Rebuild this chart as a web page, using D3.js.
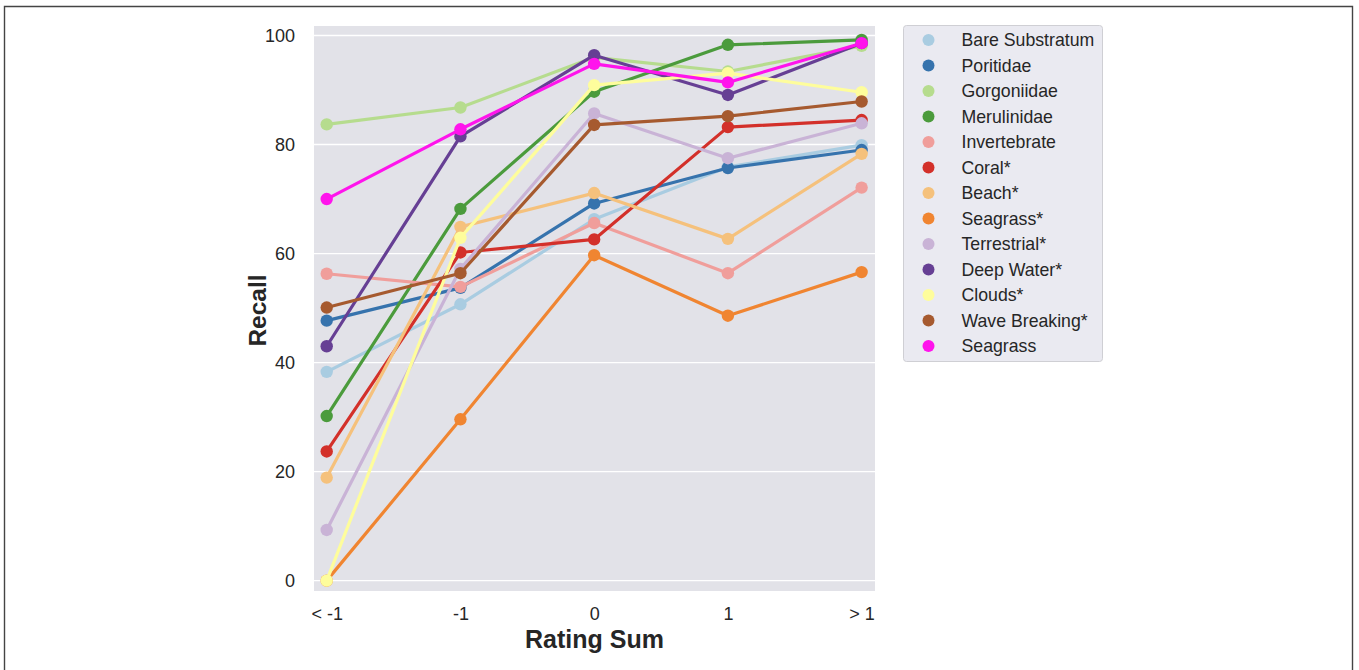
<!DOCTYPE html>
<html>
<head>
<meta charset="utf-8">
<script src="https://cdn.jsdelivr.net/npm/d3@7"></script>
<style>
  html, body { margin: 0; padding: 0; background: #fff; }
  svg { display: block; }
  text { font-family: "Liberation Sans", Arial, sans-serif; fill: #262626; }
</style>
</head>
<body>
<svg id="chart" width="1359" height="670"></svg>
<script>
// Rating-sum bins on the x axis
const categories = ["< -1", "-1", "0", "1", "> 1"];
const yTicks = [0, 20, 40, 60, 80, 100];

// Class names, in drawing / legend order
const classNames = [
  "Bare Substratum", "Poritidae", "Gorgoniidae", "Merulinidae", "Invertebrate",
  "Coral*", "Beach*", "Seagrass*", "Terrestrial*", "Deep Water*",
  "Clouds*", "Wave Breaking*", "Seagrass"
];

// Recall (%) per class for each rating-sum bin
const bareSubstratum = [38.3, 50.7, 66.3, 75.9, 79.9];
const poritidae      = [47.7, 53.7, 69.2, 75.7, 79.0];
const gorgoniidae    = [83.7, 86.8, 96.0, 93.4, 98.1];
const merulinidae    = [30.2, 68.2, 89.7, 98.3, 99.2];
const invertebrate   = [56.3, 53.9, 65.6, 56.4, 72.1];
const coral          = [23.7, 60.2, 62.6, 83.2, 84.5];
const beach          = [18.9, 64.9, 71.1, 62.7, 78.3];
const seagrassStar   = [0.0, 29.6, 59.7, 48.6, 56.6];
const terrestrial    = [9.3, 57.2, 85.7, 77.5, 83.9];
const deepWater      = [43.0, 81.5, 96.4, 89.1, 98.6];
const clouds         = [0.0, 62.9, 90.9, 93.1, 89.6];
const waveBreaking   = [50.1, 56.4, 83.6, 85.2, 87.9];
const seagrass       = [70.0, 82.8, 94.8, 91.4, 98.6];

const seriesValues = [
  bareSubstratum, poritidae, gorgoniidae, merulinidae, invertebrate,
  coral, beach, seagrassStar, terrestrial, deepWater,
  clouds, waveBreaking, seagrass
];

const palette = [
  "#a9cce1", "#3673ad", "#b6dc8e", "#4b9b3c", "#f09e9b",
  "#d3302a", "#f5c17c", "#f08531", "#c9b3d6", "#663f94",
  "#fefd9c", "#a65a2f", "#ff14ec"
];

const svg = d3.select("#chart");

// Outer frame
svg.append("path")
  .attr("d", "M4.5,680 L4.5,6.5 L1352.5,6.5 L1352.5,680")
  .attr("fill", "none")
  .attr("stroke", "#444")
  .attr("stroke-width", 1.4);

const plot = { left: 314, right: 875, top: 26, bottom: 591 };

const x = d3.scaleLinear()
  .domain([-0.095, categories.length - 1 + 0.1])
  .range([plot.left, plot.right]);

const y = d3.scaleLinear()
  .domain([-1.9, 101.75])
  .range([plot.bottom, plot.top]);

// Plot background
svg.append("rect")
  .attr("x", plot.left).attr("y", plot.top)
  .attr("width", plot.right - plot.left)
  .attr("height", plot.bottom - plot.top)
  .attr("fill", "#e2e2e8");

// Horizontal grid
svg.append("g")
  .selectAll("line")
  .data(yTicks)
  .join("line")
  .attr("x1", plot.left).attr("x2", plot.right)
  .attr("y1", d => y(d)).attr("y2", d => y(d))
  .attr("stroke", "#fff")
  .attr("stroke-width", 1.4);

// Y axis
const yAxis = svg.append("g")
  .attr("transform", `translate(${plot.left},0)`)
  .call(d3.axisLeft(y).tickValues(yTicks).tickSize(0).tickPadding(19));
yAxis.select(".domain").remove();
yAxis.selectAll("text")
  .style("font-size", "18px")
  .attr("fill", "#262626");

// X axis
const xAxis = svg.append("g")
  .attr("transform", `translate(0,${plot.bottom})`)
  .call(d3.axisBottom(x)
    .tickValues(d3.range(categories.length))
    .tickFormat(i => categories[i])
    .tickSize(0).tickPadding(16));
xAxis.select(".domain").remove();
xAxis.selectAll("text")
  .style("font-size", "18px")
  .attr("fill", "#262626");

// Axis titles
svg.append("text")
  .attr("x", (plot.left + plot.right) / 2)
  .attr("y", 648)
  .attr("text-anchor", "middle")
  .style("font-size", "25px")
  .style("font-weight", "bold")
  .attr("fill", "#000")
  .text("Rating Sum");

svg.append("text")
  .attr("transform", `translate(266,${(plot.top + plot.bottom) / 2 + 2}) rotate(-90)`)
  .attr("text-anchor", "middle")
  .style("font-size", "24.5px")
  .style("font-weight", "bold")
  .attr("fill", "#000")
  .text("Recall");

// Series lines and points
const line = d3.line()
  .x((d, i) => x(i))
  .y(d => y(d));

const seriesG = svg.append("g");
seriesValues.forEach((vals, k) => {
  const g = seriesG.append("g");
  g.append("path")
    .datum(vals)
    .attr("d", line)
    .attr("fill", "none")
    .attr("stroke", palette[k])
    .attr("stroke-width", 3.2)
    .attr("stroke-linejoin", "round");
  g.selectAll("circle")
    .data(vals)
    .join("circle")
    .attr("cx", (d, i) => x(i))
    .attr("cy", d => y(d))
    .attr("r", 6.2)
    .attr("fill", palette[k]);
});

// Legend
const legend = svg.append("g");
legend.append("rect")
  .attr("x", 903.5).attr("y", 25.5)
  .attr("width", 199).attr("height", 336)
  .attr("rx", 3).attr("ry", 3)
  .attr("fill", "#eaeaf1")
  .attr("stroke", "#cfcfd4")
  .attr("stroke-width", 1);

const rowY = i => 40 + i * 25.5;
const rows = legend.selectAll("g.row")
  .data(classNames)
  .join("g")
  .attr("class", "row");
rows.append("circle")
  .attr("cx", 928.5)
  .attr("cy", (d, i) => rowY(i))
  .attr("r", 6)
  .attr("fill", (d, i) => palette[i]);
rows.append("text")
  .attr("x", 961.5)
  .attr("y", (d, i) => rowY(i))
  .attr("dy", "0.35em")
  .style("font-size", "17.7px")
  .attr("fill", "#262626")
  .text(d => d);
</script>
</body>
</html>
